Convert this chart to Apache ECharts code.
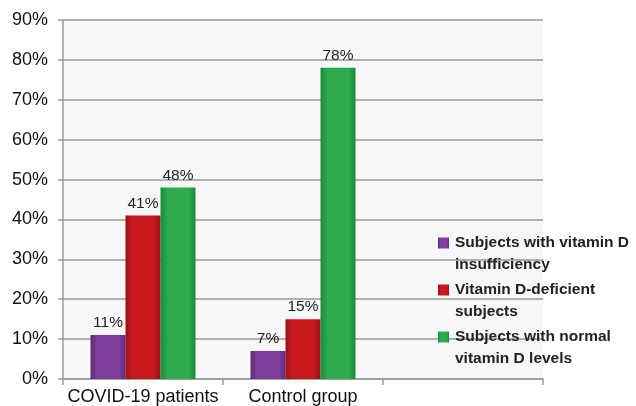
<!DOCTYPE html>
<html>
<head>
<meta charset="utf-8">
<script src="https://cdn.jsdelivr.net/npm/echarts@6/dist/echarts.min.js"></script>
<style>
  html, body { margin: 0; padding: 0; background: #fff; }
  #chart { width: 636px; height: 406px; }
</style>
</head>
<body>
<div id="chart"></div>
<script>
const categories = ['COVID-19 patients', 'Control group', '']
const insufficient = [11, 7, null]
const deficient = [41, 15, null]
const normal = [48, 78, null]
const seriesNames = [
  'Subjects with vitamin D\ninsufficiency',
  'Vitamin D-deficient\nsubjects',
  'Subjects with normal\nvitamin D levels'
]

// 左右渐变，模拟原图的立体柱子
function barColor(dark, mid) {
  return new echarts.graphic.LinearGradient(0, 0, 1, 0, [
    { offset: 0, color: dark },
    { offset: 0.2, color: mid },
    { offset: 0.8, color: mid },
    { offset: 1, color: dark }
  ])
}

function makeSeries(name, data, dark, mid) {
  return {
    name: name,
    type: 'bar',
    barWidth: 35,
    barGap: '0%',
    data: data,
    itemStyle: { color: barColor(dark, mid) },
    label: {
      show: true,
      position: 'top',
      distance: 4,
      color: '#222',
      fontSize: 15.5,
      fontFamily: 'Liberation Sans, Arial, sans-serif',
      formatter: '{c}%'
    }
  }
}

const chart = echarts.init(document.getElementById('chart'))
chart.setOption({
  animation: false,
  color: ['#7e3d9b', '#c4191f', '#2aa84a'],
  grid: {
    left: 63,
    right: 93,
    top: 20,
    bottom: 27,
    show: true,
    backgroundColor: '#f6f7f9',
    borderWidth: 0
  },
  legend: {
    orient: 'vertical',
    left: 433,
    top: 227,
    itemWidth: 11,
    itemHeight: 33,
    itemGap: 3,
    // 方块放在第一行旁边
    icon: 'path://M0,0L10,0L10,10L0,10Z M0,30L0,30',
    data: seriesNames,
    textStyle: {
      color: '#222',
      fontSize: 15.5,
      fontWeight: 'bold',
      lineHeight: 22,
      padding: [0, 0, 0, 1],
      fontFamily: 'Liberation Sans, Arial, sans-serif'
    }
  },
  xAxis: {
    type: 'category',
    data: categories,
    axisLine: { lineStyle: { color: '#999', width: 1.5 } },
    axisTick: { show: true, length: 6, lineStyle: { color: '#999', width: 1.5 } },
    axisLabel: {
      interval: 0,
      color: '#111',
      fontSize: 18,
      margin: 9,
      fontFamily: 'Liberation Sans, Arial, sans-serif'
    }
  },
  yAxis: {
    type: 'value',
    min: 0,
    max: 90,
    interval: 10,
    axisLine: { show: true, lineStyle: { color: '#999', width: 1.5 } },
    axisTick: { show: true, length: 5, lineStyle: { color: '#999', width: 1.5 } },
    splitLine: { lineStyle: { color: '#999', width: 1.5 } },
    axisLabel: {
      color: '#111',
      fontSize: 18,
      margin: 15,
      formatter: '{value}%',
      fontFamily: 'Liberation Sans, Arial, sans-serif'
    }
  },
  series: [
    makeSeries(seriesNames[0], insufficient, '#5e2878', '#7e3f9c'),
    makeSeries(seriesNames[1], deficient, '#981015', '#c8191f'),
    makeSeries(seriesNames[2], normal, '#1b8a38', '#2caa4c')
  ]
})
</script>
</body>
</html>
